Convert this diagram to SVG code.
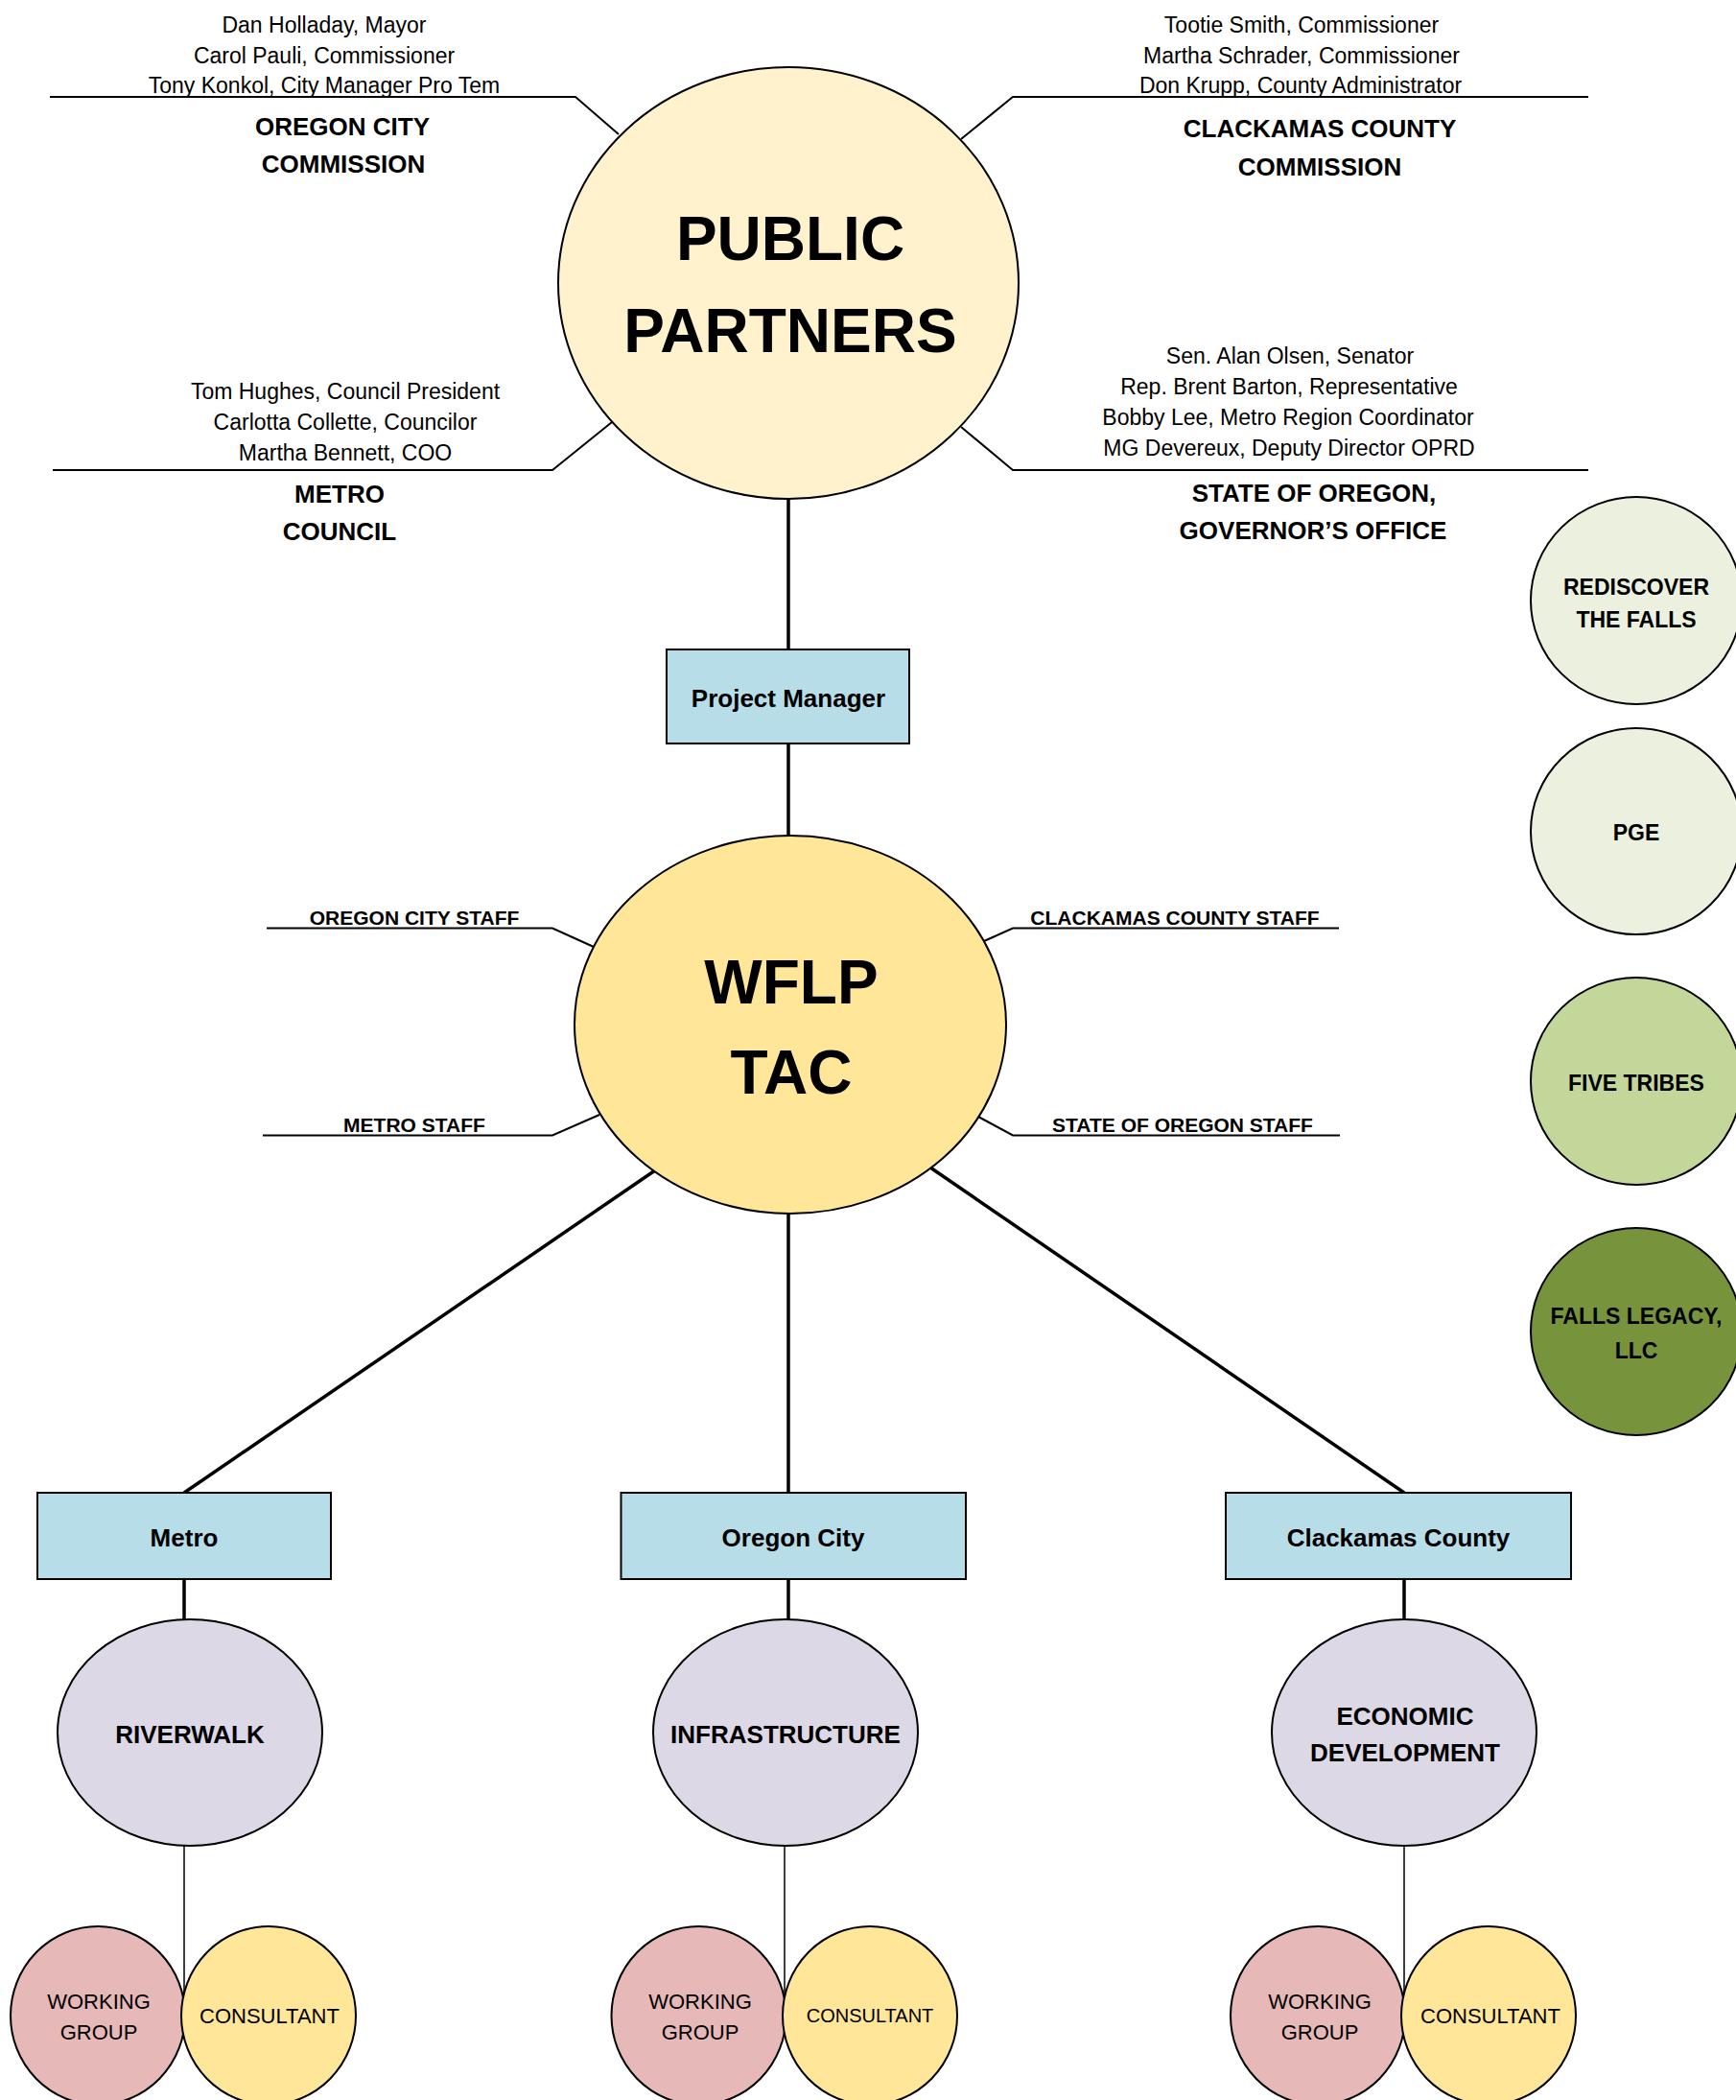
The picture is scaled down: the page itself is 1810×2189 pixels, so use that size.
<svg xmlns="http://www.w3.org/2000/svg" width="1810" height="2189" viewBox="0 0 1810 2189">
<style>
text{font-family:"Liberation Sans",Arial,sans-serif;text-anchor:middle;fill:#000}
.nm{font-size:23px}
.tt{font-size:26px;font-weight:bold}
.big{font-size:64px;font-weight:bold}
.st{font-size:21px;font-weight:bold}
.bx{font-size:26px;font-weight:bold}
.pl{font-size:26px;font-weight:bold}
.sd{font-size:23px;font-weight:bold}
.sm{font-size:22px}
.node{stroke:#000;stroke-width:2}
.conn{stroke:#000;stroke-width:3.5;fill:none}
.call{stroke:#000;stroke-width:2;fill:none}
.thin{stroke:#000;stroke-width:1.5;fill:none}
</style>
<rect width="1810" height="2189" fill="#fff"/>
<g id="connectors">
<line class="conn" x1="822" y1="520" x2="822" y2="677"/>
<line class="conn" x1="822" y1="775" x2="822" y2="871"/>
<line class="conn" x1="683" y1="1220" x2="192" y2="1556"/>
<line class="conn" x1="822" y1="1265" x2="822" y2="1556"/>
<line class="conn" x1="970" y1="1217" x2="1464" y2="1556"/>
<line class="conn" x1="192" y1="1646" x2="192" y2="1688"/>
<line class="conn" x1="822" y1="1646" x2="822" y2="1688"/>
<line class="conn" x1="1464" y1="1646" x2="1464" y2="1688"/>
<line class="thin" x1="192" y1="1923" x2="192" y2="2090"/>
<line class="thin" x1="818" y1="1923" x2="818" y2="2090"/>
<line class="thin" x1="1464" y1="1923" x2="1464" y2="2090"/>
<polyline class="call" points="52,101 600,101 645,140"/>
<polyline class="call" points="55,490 576,490 638,440"/>
<polyline class="call" points="1656,101 1056,101 1002,145"/>
<polyline class="call" points="1656,490 1056,490 1002,445"/>
<polyline class="call" points="278,967.5 576,967.5 619,987"/>
<polyline class="call" points="274,1183.5 576,1183.5 625,1162"/>
<polyline class="call" points="1396,967.5 1056,967.5 1026,981"/>
<polyline class="call" points="1397,1183.5 1056,1183.5 1020,1164"/>
</g>
<g id="public-partners">
<ellipse class="node" cx="822" cy="295" rx="240" ry="225" fill="#FFF2CC"/>
<text class="big" x="824" y="271">PUBLIC</text>
<text class="big" x="824" y="367">PARTNERS</text>
</g>
<g id="oregon-city-commission">
<text class="nm" x="338" y="34">Dan Holladay, Mayor</text>
<text class="nm" x="338" y="66">Carol Pauli, Commissioner</text>
<text class="nm" x="338" y="97">Tony Konkol, City Manager Pro Tem</text>
<text class="tt" x="357" y="141">OREGON CITY</text>
<text class="tt" x="358" y="180">COMMISSION</text>
</g>
<g id="metro-council">
<text class="nm" x="360" y="416">Tom Hughes, Council President</text>
<text class="nm" x="360" y="448">Carlotta Collette, Councilor</text>
<text class="nm" x="360" y="480">Martha Bennett, COO</text>
<text class="tt" x="354" y="524">METRO</text>
<text class="tt" x="354" y="563">COUNCIL</text>
</g>
<g id="clackamas-county-commission">
<text class="nm" x="1357" y="34">Tootie Smith, Commissioner</text>
<text class="nm" x="1357" y="66">Martha Schrader, Commissioner</text>
<text class="nm" x="1356" y="97">Don Krupp, County Administrator</text>
<text class="tt" x="1376" y="143">CLACKAMAS COUNTY</text>
<text class="tt" x="1376" y="183">COMMISSION</text>
</g>
<g id="state-of-oregon">
<text class="nm" x="1345" y="379">Sen. Alan Olsen, Senator</text>
<text class="nm" x="1344" y="411">Rep. Brent Barton, Representative</text>
<text class="nm" x="1343" y="443">Bobby Lee, Metro Region Coordinator</text>
<text class="nm" x="1344" y="475">MG Devereux, Deputy Director OPRD</text>
<text class="tt" x="1370" y="523">STATE OF OREGON,</text>
<text class="tt" x="1369" y="562">GOVERNOR’S OFFICE</text>
</g>
<g id="project-manager">
<rect class="node" x="695" y="677" width="253" height="98" fill="#B7DEE8"/>
<text class="bx" x="822" y="737">Project Manager</text>
</g>
<g id="wflp-tac">
<ellipse class="node" cx="824" cy="1068" rx="225" ry="197" fill="#FFE699"/>
<text class="big" x="825" y="1046">WFLP</text>
<text class="big" x="825" y="1140">TAC</text>
</g>
<g id="staff-labels">
<text class="st" x="432" y="964">OREGON CITY STAFF</text>
<text class="st" x="432" y="1180">METRO STAFF</text>
<text class="st" x="1225" y="964">CLACKAMAS COUNTY STAFF</text>
<text class="st" x="1233" y="1180">STATE OF OREGON STAFF</text>
</g>
<g id="rediscover-the-falls">
<ellipse class="node" cx="1706" cy="626" rx="110" ry="108" fill="#EBF1DE"/>
<text class="sd" x="1706" y="620">REDISCOVER</text>
<text class="sd" x="1706" y="654">THE FALLS</text>
</g>
<g id="pge">
<ellipse class="node" cx="1706" cy="866.5" rx="110" ry="107.5" fill="#EBF1DE"/>
<text class="sd" x="1706" y="876">PGE</text>
</g>
<g id="five-tribes">
<ellipse class="node" cx="1706" cy="1127" rx="110" ry="108" fill="#C4D79B"/>
<text class="sd" x="1706" y="1137">FIVE TRIBES</text>
</g>
<g id="falls-legacy">
<ellipse class="node" cx="1706" cy="1388" rx="110" ry="108" fill="#77933C"/>
<text class="sd" x="1706" y="1380">FALLS LEGACY,</text>
<text class="sd" x="1706" y="1416">LLC</text>
</g>
<g id="metro">
<rect class="node" x="39" y="1556" width="306" height="90" fill="#B7DEE8"/>
<text class="bx" x="192" y="1612">Metro</text>
</g>
<g id="oregon-city">
<rect class="node" x="647.5" y="1556" width="359.5" height="90" fill="#B7DEE8"/>
<text class="bx" x="827" y="1612">Oregon City</text>
</g>
<g id="clackamas-county">
<rect class="node" x="1278" y="1556" width="360" height="90" fill="#B7DEE8"/>
<text class="bx" x="1458" y="1612">Clackamas County</text>
</g>
<g id="riverwalk">
<ellipse class="node" cx="198" cy="1806" rx="138" ry="118" fill="#DDD8E5"/>
<text class="pl" x="198" y="1817">RIVERWALK</text>
</g>
<g id="infrastructure">
<ellipse class="node" cx="819" cy="1806" rx="138" ry="118" fill="#DDD8E5"/>
<text class="pl" x="819" y="1817">INFRASTRUCTURE</text>
</g>
<g id="economic-development">
<ellipse class="node" cx="1464" cy="1806" rx="138" ry="118" fill="#DDD8E5"/>
<text class="pl" x="1465" y="1798">ECONOMIC</text>
<text class="pl" x="1465" y="1836">DEVELOPMENT</text>
</g>
<g id="riverwalk-working-group">
<ellipse class="node" cx="102" cy="2101" rx="91" ry="93" fill="#E6B9B8"/>
<text class="sm" x="103" y="2094">WORKING</text>
<text class="sm" x="103" y="2126">GROUP</text>
</g>
<g id="riverwalk-consultant">
<ellipse class="node" cx="280" cy="2101" rx="91" ry="93" fill="#FFE699"/>
<text class="sm" x="281" y="2109">CONSULTANT</text>
</g>
<g id="infrastructure-working-group">
<ellipse class="node" cx="728.5" cy="2101" rx="91" ry="93" fill="#E6B9B8"/>
<text class="sm" x="730" y="2094">WORKING</text>
<text class="sm" x="730" y="2126">GROUP</text>
</g>
<g id="infrastructure-consultant">
<ellipse class="node" cx="907" cy="2101" rx="91" ry="93" fill="#FFE699"/>
<text class="sm" x="907" y="2108" style="font-size:20px">CONSULTANT</text>
</g>
<g id="economic-working-group">
<ellipse class="node" cx="1374" cy="2101" rx="91" ry="93" fill="#E6B9B8"/>
<text class="sm" x="1376" y="2094">WORKING</text>
<text class="sm" x="1376" y="2126">GROUP</text>
</g>
<g id="economic-consultant">
<ellipse class="node" cx="1552" cy="2101" rx="91" ry="93" fill="#FFE699"/>
<text class="sm" x="1554" y="2109">CONSULTANT</text>
</g>
</svg>
